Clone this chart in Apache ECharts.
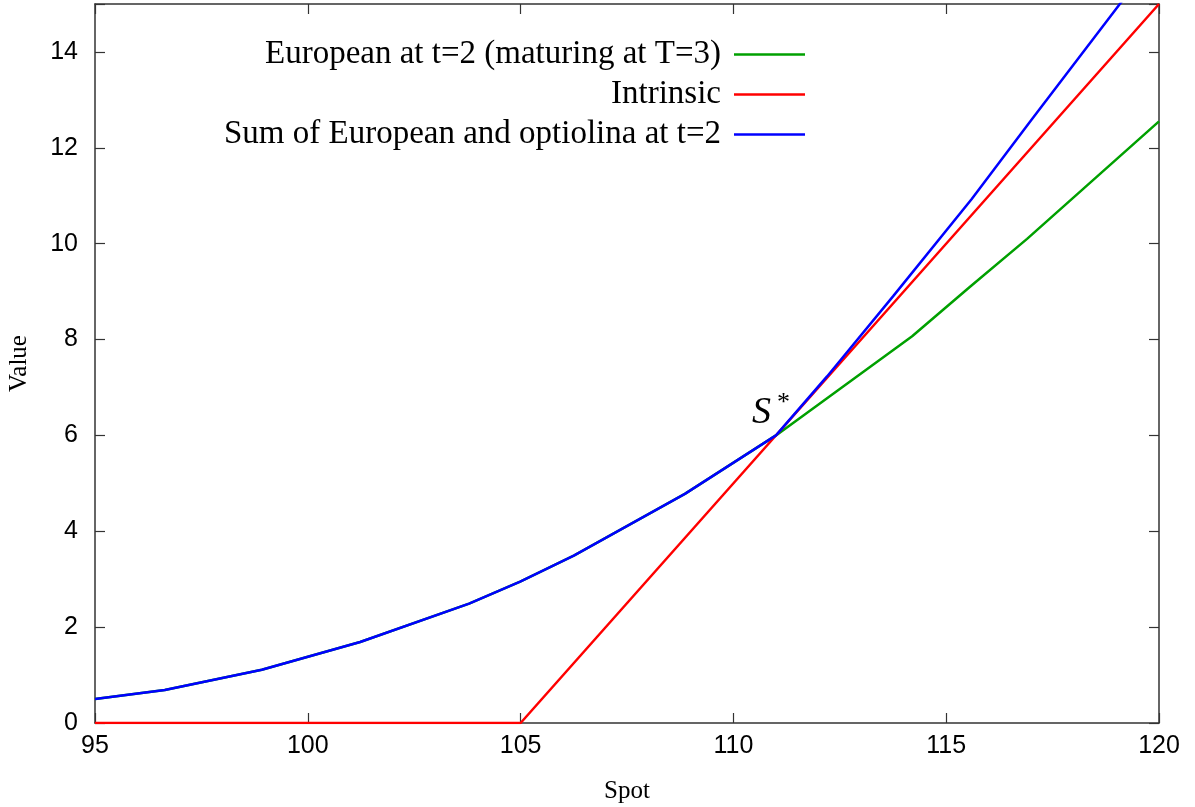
<!DOCTYPE html>
<html>
<head>
<meta charset="utf-8">
<script src="https://cdn.jsdelivr.net/npm/echarts@6/dist/echarts.min.js"></script>
<style>
  html, body { margin: 0; padding: 0; background: #fff; }
  #chart { width: 1195px; height: 807px; }
</style>
</head>
<body>
<div id="chart"></div>
<script>
// spot vs value
var europeanSpot = [95, 96.64, 98.92, 101.23, 103.79, 104.99, 106.25, 108.86, 111, 114.2, 115.56, 116.9, 120];
var europeanVal  = [0.5, 0.69, 1.11, 1.69, 2.49, 2.95, 3.49, 4.78, 6.0, 8.07, 9.1, 10.1, 12.55];

var intrinsicSpot = [95, 105, 120];
var intrinsicVal  = [0, 0, 15];

var sumSpot = [95, 96.64, 98.92, 101.23, 103.79, 104.99, 106.25, 108.86, 111, 112.2, 113.75, 115.6, 117.0, 119.08, 120];
var sumVal  = [0.5, 0.69, 1.11, 1.69, 2.49, 2.95, 3.49, 4.78, 6.0, 7.23, 8.9, 10.93, 12.58, 15.0, 16.08];

var xTicks = [95, 100, 105, 110, 115, 120];
var yTicks = [0, 2, 4, 6, 8, 10, 12, 14];

var names = ['European at t=2 (maturing at T=3)', 'Intrinsic', 'Sum of European and optiolina at t=2'];

function pairs(xs, ys) {
  return xs.map(function (x, i) { return [x, ys[i]]; });
}

var chart = echarts.init(document.getElementById('chart'));

var border = { show: true, onZero: false, lineStyle: { color: '#333', width: 1.5 } };
var tick = { show: true, inside: true, length: 10, lineStyle: { color: '#333', width: 1.2 } };
var sans = 'Liberation Sans, Arial, sans-serif';
var serif = 'Liberation Serif, Times New Roman, serif';

var option = {
  backgroundColor: '#fff',
  animation: false,
  grid: { left: 95, right: 36, top: 4, bottom: 84, containLabel: false, outerBoundsMode: 'none' },
  legend: {
    orient: 'vertical',
    align: 'right',
    right: 385,
    top: 33,
    itemWidth: 71,
    itemHeight: 2.5,
    itemGap: 7,
    icon: 'rect',
    data: names,
    textStyle: { fontFamily: serif, fontSize: 33, color: '#000', padding: [0, 8, 0, 0] }
  },
  xAxis: [{
    type: 'value', min: 95, max: 120, interval: 5,
    name: 'Spot', nameLocation: 'middle', nameGap: 56,
    nameTextStyle: { fontFamily: serif, fontSize: 25, color: '#000' },
    axisLine: border, axisTick: tick, splitLine: { show: false },
    axisLabel: {
      fontFamily: sans, fontSize: 25, color: '#000', margin: 11,
      formatter: function (v) { return xTicks.indexOf(v) >= 0 ? String(v) : ''; }
    }
  }, {
    type: 'value', min: 95, max: 120, interval: 5, position: 'top',
    axisLine: border, axisTick: tick, splitLine: { show: false },
    axisLabel: { show: false }
  }],
  yAxis: [{
    type: 'value', min: 0, max: 15, interval: 2,
    name: 'Value', nameLocation: 'middle', nameGap: 63,
    nameTextStyle: { fontFamily: serif, fontSize: 25, color: '#000' },
    axisLine: border, axisTick: tick, splitLine: { show: false },
    axisLabel: {
      fontFamily: sans, fontSize: 25, color: '#000', margin: 17,
      formatter: function (v) { return yTicks.indexOf(v) >= 0 ? String(v) : ''; }
    }
  }, {
    type: 'value', min: 0, max: 15, interval: 2, position: 'right',
    axisLine: border, axisTick: tick, splitLine: { show: false },
    axisLabel: { show: false }
  }],
  series: [{
    name: names[0], type: 'line', showSymbol: false, symbol: 'none',
    data: pairs(europeanSpot, europeanVal),
    lineStyle: { color: '#00a000', width: 2.5 }, itemStyle: { color: '#00a000' }, z: 2
  }, {
    name: names[1], type: 'line', showSymbol: false, symbol: 'none',
    data: pairs(intrinsicSpot, intrinsicVal),
    lineStyle: { color: '#ff0000', width: 2.5 }, itemStyle: { color: '#ff0000' }, z: 3
  }, {
    name: names[2], type: 'line', showSymbol: false, symbol: 'none',
    data: pairs(sumSpot, sumVal),
    lineStyle: { color: '#0000ff', width: 2.5 }, itemStyle: { color: '#0000ff' }, z: 4,
    markPoint: {
      symbol: 'circle', symbolSize: 0,
      data: [{ coord: [111, 6] }],
      label: {
        show: true, position: 'inside', offset: [-5, -22],
        formatter: '{s|S}{st|*}',
        rich: {
          s: { fontFamily: serif, fontStyle: 'italic', fontSize: 38, color: '#000' },
          st: { fontFamily: serif, fontSize: 26, color: '#000', padding: [0, 0, 20, 6] }
        }
      }
    }
  }]
};

chart.setOption(option);
</script>
</body>
</html>
